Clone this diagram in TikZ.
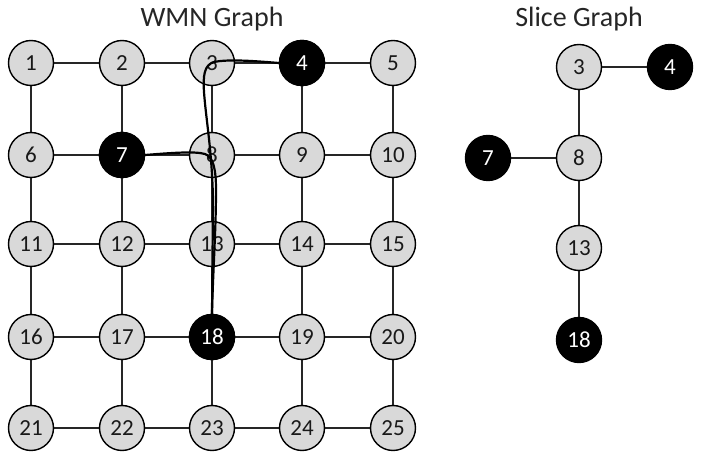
\documentclass[tikz,border=0pt]{standalone}
\usepackage{fontspec}
\setmainfont{Carlito}
\usetikzlibrary{backgrounds}
\begin{document}
\begin{tikzpicture}[x=1pt,y=-1pt,
  gnode/.style={circle,draw=black,line width=1.4pt,fill=gray!30,minimum size=45pt,inner sep=0pt,font=\fontsize{23}{23}\selectfont,text=black!90},
  bnode/.style={gnode,fill=black,text=white},
  edge/.style={line width=1.5pt,black!85},
  route/.style={line width=2.2pt,black},
  title/.style={anchor=base,font=\fontsize{28}{28}\selectfont,text=black!85}]
\useasboundingbox (0,0) rectangle (705,454);
\node[title] (t1) at (212,27) {WMN Graph};
\node[title] (t2) at (579,27) {Slice Graph};
% grid
\foreach \r/\y in {0/63,1/155,2/244,3/337,4/428}{
  \foreach \c/\x in {1/31,2/122,3/212,4/302,5/393}{
    \pgfmathtruncatemacro{\n}{\r*5+\c}
    \node[gnode] (g\n) at (\x,\y) {\n};
  }
}
\foreach \n in {4,7,18}{\node[bnode] at (g\n) {\n};}
\begin{scope}[on background layer]
\foreach \r in {0,...,4}{
  \foreach \c in {1,...,4}{
    \pgfmathtruncatemacro{\a}{\r*5+\c}
    \pgfmathtruncatemacro{\b}{\a+1}
    \draw[edge] (g\a) -- (g\b);
  }
}
\foreach \a in {1,...,20}{
  \pgfmathtruncatemacro{\b}{\a+5}
  \draw[edge] (g\a) -- (g\b);
}
\end{scope}
% routes
\draw[route] (g4.west) .. controls (255,61) and (228,59) .. (214,62)
  .. controls (204,65) and (203,76) .. (204,92)
  .. controls (206,120) and (212,150) .. (213,200)
  -- (g18.north);
\draw[route] (g7.east) .. controls (170,153) and (195,151) .. (205,154)
  .. controls (213,157) and (216,168) .. (216,190)
  .. controls (216,230) and (213,270) .. (g18.north);
% slice graph
\node[gnode] (s3) at (579,67) {3};
\node[bnode] (s4) at (670,67) {4};
\node[bnode] (s7) at (488,158) {7};
\node[gnode] (s8) at (579,158) {8};
\node[gnode] (s13) at (579,248) {13};
\node[bnode] (s18) at (579,340) {18};
\begin{scope}[on background layer]
\draw[edge] (s3) -- (s4);
\draw[edge] (s3) -- (s8);
\draw[edge] (s7) -- (s8);
\draw[edge] (s8) -- (s13);
\draw[edge] (s13) -- (s18);
\end{scope}
\end{tikzpicture}
\end{document}
